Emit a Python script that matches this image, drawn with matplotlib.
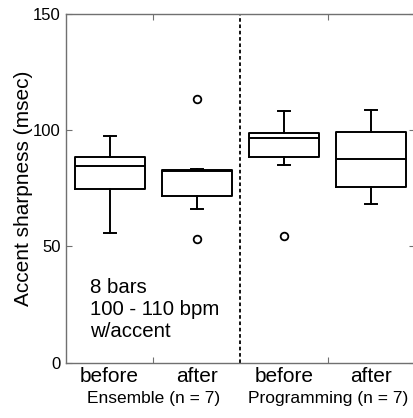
"""
Box plot of accent sharpness before/after, for two groups
"""

import matplotlib
matplotlib.use("Agg")
import matplotlib.pyplot as plt
import matplotlib.transforms as mtransforms

plt.rcParams["font.family"] = ["Liberation Sans", "DejaVu Sans"]

# box statistics (msec)
conditions = ["before", "after", "before", "after"]
groups = ["Ensemble (n = 7)", "Programming (n = 7)"]
whisker_low = [55.7, 66.1, 84.9, 68.3]
q1 = [74.6, 71.6, 88.4, 75.7]
median = [84.6, 82.4, 96.8, 87.5]
q3 = [88.5, 82.8, 98.7, 99.1]
whisker_high = [97.5, 83.2, 108.1, 108.8]
outliers = [[], [113.3, 53.3], [54.6], []]
yticks = [0, 50, 100, 150]
note = "8 bars\n100 - 110 bpm\nw/accent"

stats = []
for i in range(len(conditions)):
    stats.append({
        "whislo": whisker_low[i], "q1": q1[i], "med": median[i],
        "q3": q3[i], "whishi": whisker_high[i], "fliers": outliers[i],
    })

fig = plt.figure(figsize=(4.14, 4.18), dpi=100)
ax = fig.add_axes([0.1594, 0.1323, 0.8430, 0.8342])

positions = [1, 2, 3, 4]
line = dict(color="black", linewidth=1.4)
ax.bxp(stats, positions=positions, widths=0.8, capwidths=0.14,
       boxprops=line, whiskerprops=line, capprops=line, medianprops=line,
       flierprops=dict(marker="o", markersize=5.5, markerfacecolor="none",
                       markeredgecolor="black", markeredgewidth=1.3),
       manage_ticks=False)

# separator between the two groups
ax.axvline(2.5, color="black", linewidth=1.3, linestyle=(0, (2, 1.5)))

ax.set_xlim(0.5, 4.5)
ax.set_ylim(0, 150)
ax.set_yticks(yticks)
ax.set_ylabel("Accent sharpness (msec)", fontsize=15, labelpad=0)

# major ticks mark group boundaries; minor ticks carry the labels
ax.set_xticks([1.5, 3.5])
ax.set_xticklabels([])
ax.set_xticks(positions, minor=True)
ax.set_xticklabels(conditions, minor=True, fontsize=15)
ax.tick_params(axis="x", which="minor", length=0, pad=3)
ax.tick_params(axis="both", which="major", direction="in", length=4,
               color="#707070", top=True, right=True, labelsize=12)
ax.tick_params(axis="y", pad=4)

for s in ax.spines.values():
    s.set_color("#707070")
    s.set_linewidth(1.0)

trans = mtransforms.blended_transform_factory(ax.transData, ax.transAxes)
for x, g in zip([1.5, 3.5], groups):
    ax.text(x, -0.1164, g, transform=trans, ha="center", va="baseline",
            fontsize=12.5)

# baseline of the last line of the note
ax.text(0.068, 0.0737, note, transform=ax.transAxes, ha="left",
        va="baseline", fontsize=14.7, linespacing=1.2)

fig.savefig("out.png", dpi=100)
